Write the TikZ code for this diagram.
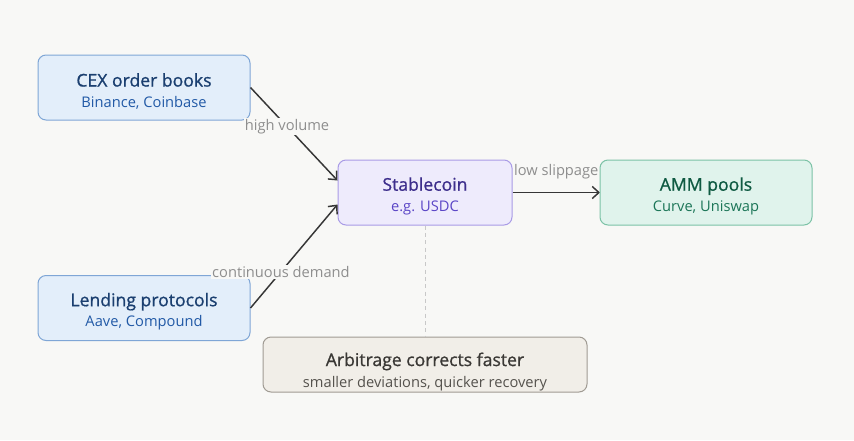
\documentclass[tikz,border=0pt]{standalone}
\usepackage{fontspec}
\setmainfont{Open Sans}
\newfontfamily\medfont[FakeBold=0.9]{Open Sans}
\usetikzlibrary{arrows.meta}

\definecolor{bgcol}{HTML}{F8F8F6}
\definecolor{arrowcol}{HTML}{363636}
\definecolor{tagcol}{HTML}{8E8E8E}
\definecolor{cexfill}{HTML}{E3EEFA}
\definecolor{cexdraw}{HTML}{7FA6D6}
\definecolor{cextxt}{HTML}{1B3F70}
\definecolor{cexsub}{HTML}{2159A6}
\definecolor{stbfill}{HTML}{EEEBFC}
\definecolor{stbdraw}{HTML}{A99BE6}
\definecolor{stbtxt}{HTML}{3D2E8C}
\definecolor{stbsub}{HTML}{5A45C6}
\definecolor{ammfill}{HTML}{E0F3EC}
\definecolor{ammdraw}{HTML}{7CC2A6}
\definecolor{ammtxt}{HTML}{0F5A42}
\definecolor{ammsub}{HTML}{1B7557}
\definecolor{arbfill}{HTML}{F1EEE8}
\definecolor{arbdraw}{HTML}{A09B93}
\definecolor{arbtxt}{HTML}{3A3835}
\definecolor{arbsub}{HTML}{55524D}
\definecolor{dashcol}{HTML}{C8C8C8}

\newcommand{\ttl}[2][15.5pt]{{\rule{0pt}{#1}\medfont\fontsize{13.2}{15}\selectfont #2}}
\newcommand{\sub}[1]{{\fontsize{11}{13}\selectfont #1}}

\begin{document}
\begin{tikzpicture}[x=0.75pt,y=-0.75pt,
  box/.style={rounded corners=6pt,line width=0.75pt,align=center,
    inner sep=0pt,minimum height=48.75pt,minimum width=159pt},
  flow/.style={-{Straight Barb[length=5pt,width=9pt]},line width=1.1pt,draw=arrowcol},
  tag/.style={text=tagcol,font=\fontsize{11}{13}\selectfont,fill=bgcol,inner sep=1pt}]
  \fill[bgcol] (0,0) rectangle (854,440);

  \node[box,fill=cexfill,draw=cexdraw] (cex) at (144,87.5)
    {\color{cextxt}\ttl{CEX order books}\\[3.5pt]\color{cexsub}\sub{Binance, Coinbase}};
  \node[box,fill=cexfill,draw=cexdraw] (lend) at (144,308)
    {\color{cextxt}\ttl{Lending protocols}\\[3.5pt]\color{cexsub}\sub{Aave, Compound}};
  \node[box,fill=stbfill,draw=stbdraw,minimum width=130.5pt] (stable) at (425,192.5)
    {\color{stbtxt}\ttl{Stablecoin}\\[3.5pt]\color{stbsub}\sub{e.g. USDC}};
  \node[box,fill=arbfill,draw=arbdraw,minimum width=243pt,minimum height=41.25pt] (arb) at (425,364.5)
    {\color{arbtxt}\ttl[20.7pt]{Arbitrage corrects faster}\\[3.75pt]\color{arbsub}\sub{smaller deviations, quicker recovery}};

  \draw[flow] (cex.east) -- node[tag,pos=0.42] {high volume} ([yshift=9pt]stable.west);
  \draw[flow] (lend.east) -- node[tag,pos=0.35] {continuous demand} ([yshift=-9pt]stable.west);
  \draw[flow] (stable.east) -- node[text=tagcol,font=\fontsize{11}{13}\selectfont,midway,yshift=15.5pt] {low slippage} (600,192.5);
  \draw[dashcol,line width=0.75pt,dash pattern=on 3pt off 2.5pt] (stable.south) -- (arb.north);

  % drawn last so it sits over the label
  \node[box,fill=ammfill,draw=ammdraw] (amm) at (706,192.5)
    {\color{ammtxt}\ttl{AMM pools}\\[3.5pt]\color{ammsub}\sub{Curve, Uniswap}};
\end{tikzpicture}
\end{document}
